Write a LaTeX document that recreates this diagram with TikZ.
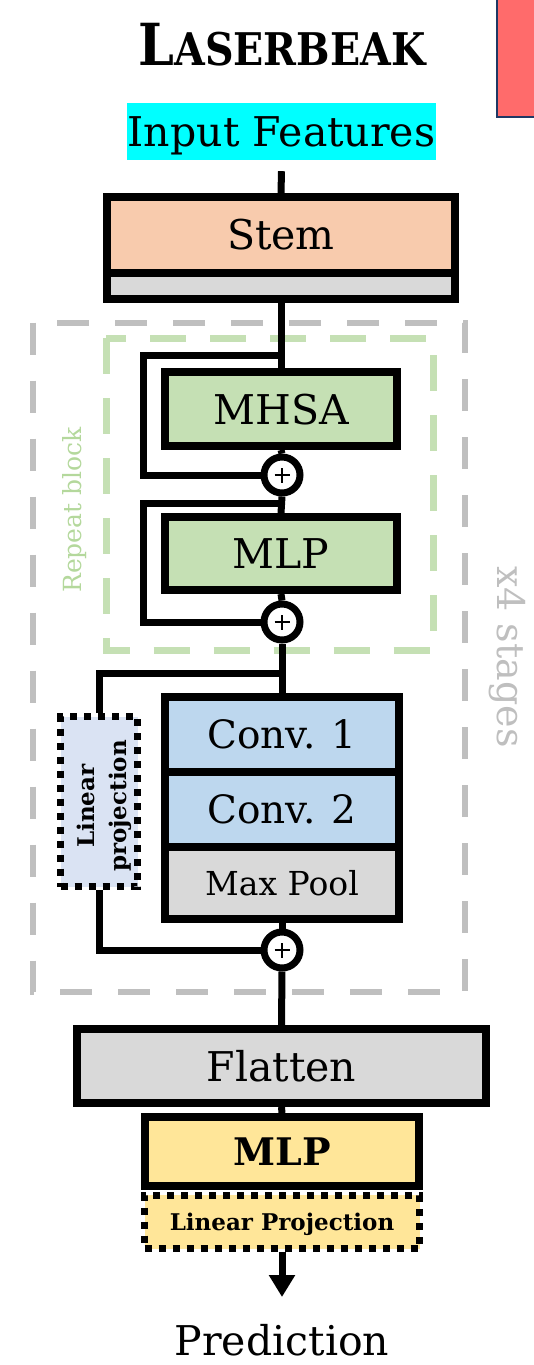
\documentclass[tikz,border=0pt]{standalone}
\usepackage{fontspec}
\setmainfont{DejaVu Serif}
\usetikzlibrary{arrows.meta}
\definecolor{stemc}{HTML}{F8CBAD}
\definecolor{greyc}{HTML}{D9D9D9}
\definecolor{greenc}{HTML}{C5E0B4}
\definecolor{greent}{HTML}{B4D89C}
\definecolor{bluec}{HTML}{BDD7EE}
\definecolor{lavc}{HTML}{DAE3F3}
\definecolor{yellowc}{HTML}{FFE699}
\definecolor{redc}{HTML}{FF6B6B}
\definecolor{navyc}{HTML}{1F3864}
\definecolor{framec}{HTML}{BFBFBF}
\definecolor{hilite}{HTML}{00FFFF}
\newcommand\fsz[1]{\fontsize{#1}{#1}\selectfont}
\begin{document}
\begin{tikzpicture}[x=1pt,y=-1pt,
  blk/.style={draw=black, line width=8pt, inner sep=0pt, rectangle, text depth=0pt},
  dotblk/.style={draw=black, line width=7pt, dash pattern=on 7pt off 7pt, inner sep=0pt, rectangle},
  wire/.style={draw=black, line width=7pt},
  addop/.style={circle, draw=black, line width=7pt, fill=white, minimum size=36pt, inner sep=0pt,
    path picture={\draw[line width=2.2pt]
      ([xshift=-7.5pt]path picture bounding box.center) -- ([xshift=7.5pt]path picture bounding box.center)
      ([yshift=-7.5pt]path picture bounding box.center) -- ([yshift=7.5pt]path picture bounding box.center);}},
  stageframe/.style={draw=framec, line width=6pt, dash pattern=on 32pt off 26pt},
  repframe/.style={draw=greenc, line width=7pt, dash pattern=on 36pt off 24pt}]
\useasboundingbox (0,0) rectangle (533,1365);

% corner marker
\draw[draw=navyc, line width=2pt, fill=redc] (497,-5) rectangle (540,117);

% title and input
\node[anchor=base] (title) at (282,65)
  {\scalebox{0.88}[1]{\bfseries\fsz{58}L\fsz{45}ASERBEAK}};
\node[fill=hilite, inner sep=0pt, minimum width=309pt, minimum height=57pt,
  text height=30pt, text depth=0pt] (input) at (281.5,131.5) {\fsz{41}Input Features};

% grouping frames
\draw[stageframe] (33,322.5) rectangle (465,991.5);
\draw[repframe] (106,338) rectangle (433.5,650.5);
\node[rotate=90, text=greent, text depth=0pt] (replabel) at (72,510) {\fsz{25}Repeat block};
\node[rotate=-90, text=framec, text depth=0pt] (stagelabel) at (512,657) {\fsz{38}x4 stages};

% stem
\node[blk, fill=stemc, minimum width=348pt, minimum height=75.5pt] (stem) at (281,234.75) {\fsz{41}Stem};
\node[blk, fill=greyc, minimum width=348pt, minimum height=26.5pt] (stemnorm) at (281,285.75) {};

% repeat block
\node[blk, fill=greenc, minimum width=232pt, minimum height=74pt] (mhsa) at (281,409) {\fsz{41}MHSA};
\node[addop] (add1) at (282,475) {};
\node[blk, fill=greenc, minimum width=232pt, minimum height=73pt] (mlp) at (281,553.5) {\fsz{41}MLP};
\node[addop] (add2) at (282,622) {};

% convolution stage
\node[blk, fill=bluec, minimum width=234pt, minimum height=75pt] (conv1) at (282,734.5) {\fsz{39}Conv. 1};
\node[blk, fill=bluec, minimum width=234pt, minimum height=75pt] (conv2) at (282,809.5) {\fsz{39}Conv. 2};
\node[blk, fill=greyc, minimum width=234pt, minimum height=72pt] (pool) at (282,883) {\fsz{33}Max Pool};
\node[dotblk, fill=lavc, minimum width=77pt, minimum height=170pt] (proj) at (99,801.5) {};
\node[rotate=90, align=center, text depth=0pt,
  font=\bfseries\fontsize{23}{32}\selectfont] (projtext) at (102,806) {Linear\\projection};
\node[addop] (add3) at (282,950) {};

% head
\node[blk, fill=greyc, minimum width=409pt, minimum height=74pt] (flat) at (281.5,1066) {\fsz{41}Flatten};
\node[dotblk, fill=yellowc, minimum width=275pt, minimum height=53.5pt, text depth=0pt]
  (headproj) at (282,1221.75) {\bfseries\fsz{23}Linear Projection};
\node[blk, fill=yellowc, minimum width=274pt, minimum height=69pt] (head) at (282,1151.5) {\bfseries\fsz{38}MLP};
\node[anchor=base] (pred) at (282,1355) {\fsz{41}Prediction};

% junction points of the residual paths
\coordinate (j1) at (282,355);
\coordinate (k1) at (143,355);
\coordinate (j2) at (282,503);
\coordinate (k2) at (143,503);
\coordinate (j3) at (282,673);
\coordinate (k3) at (99,673);
\coordinate (tip) at (282,1297);

% main data path
\draw[wire] ([yshift=-11pt]input.south) -- (stem.north);
\draw[wire] (stemnorm.south) -- (mhsa.north);
\draw[wire] (mhsa.south) -- (add1.north);
\draw[wire] (add1.south) -- (mlp.north);
\draw[wire] (mlp.south) -- (add2.north);
\draw[wire] (add2.south) -- (conv1.north);
\draw[wire] (pool.south) -- (add3.north);
\draw[wire] (add3.south) -- (flat.north);
\draw[wire] (flat.south) -- (head.north);
\draw[wire, -{Triangle[width=25pt,length=22pt]}] (headproj.south) -- (tip);

% residual connections
\draw[wire] (j1) -- (k1) |- (add1.west);
\draw[wire] (j2) -- (k2) |- (add2.west);
\draw[wire] (j3) -- (k3) -- (proj.north);
\draw[wire] (proj.south) |- (add3.west);
\end{tikzpicture}
\end{document}
